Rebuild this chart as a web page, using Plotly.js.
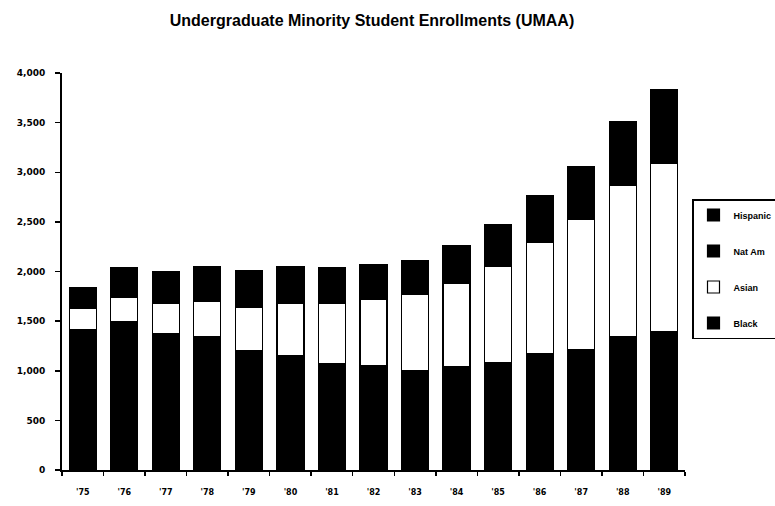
<!DOCTYPE html>
<html>
<head>
<meta charset="utf-8">
<script src="https://cdn.plot.ly/plotly-3.0.1.min.js"></script>
<style>html,body{margin:0;padding:0;background:#fff;}#chart{width:775px;height:506px;}</style>
</head>
<body>
<div id="chart"></div>
<script>
const years = ["'75","'76","'77","'78","'79","'80","'81","'82","'83","'84","'85","'86","'87","'88","'89"];
const black    = [1417,1498,1373,1349,1204,1154,1076,1056,1005,1046,1086,1174,1215,1349,1390];
const asian    = [213,240,304,351,439,523,601,665,766,833,965,1120,1315,1519,1697];
const natAm    = [30,35,35,40,40,40,40,40,40,45,50,55,60,65,70];
const hispanic = [182,264,285,308,324,334,324,304,294,333,376,411,470,582,679];
const yTicks = [0,500,1000,1500,2000,2500,3000,3500,4000];
const yTickText = ["0","500","1,000","1,500","2,000","2,500","3,000","3,500","4,000"];

function bar(name, vals, fill, rank){
  return {type:'bar', name:name, x:years, y:vals, legendgroup:name, legendrank:rank,
    marker:{color:fill, line:{color:'#000', width:1.2}}, hoverinfo:'skip'};
}
const data = [
  bar('Black', black, '#000', 4),
  bar('Asian', asian, '#fff', 3),
  bar('Nat Am', natAm, '#000', 2),
  bar('Hispanic', hispanic, '#000', 1)
];
const n = years.length;
const bounds = [];
for (let i = 0; i <= n; i++) bounds.push(i - 0.5);

const tickFont = {family:'DejaVu Sans', size:9, color:'#000', weight:'bold'};
const layout = {
  width:775, height:506,
  margin:{l:62, r:90, t:73, b:36, autoexpand:false},
  paper_bgcolor:'#fff', plot_bgcolor:'#fff',
  barmode:'stack', bargap:0.35,
  showlegend:true,
  title:{text:'Undergraduate Minority Student Enrollments (UMAA)', x:0.48, xanchor:'center',
         y:1-20/506, yanchor:'middle', yref:'container',
         font:{family:'Liberation Sans', size:16, color:'#000', weight:'bold'}},
  xaxis:{type:'category', tickson:'boundaries', ticks:'outside', ticklen:4, tickwidth:1.5, tickcolor:'#000',
         showline:true, linecolor:'#000', linewidth:2, showgrid:false, zeroline:false,
         tickfont:{family:'DejaVu Sans', size:8, color:'#000', weight:'bold'}, ticklabelstandoff:13, fixedrange:true},
  xaxis2:{overlaying:'x', type:'linear', range:[-0.5, n-0.5], tickvals:bounds, ticks:'inside', ticklen:3,
          tickwidth:1.5, tickcolor:'#000', showticklabels:false, showline:false, showgrid:false, zeroline:false},
  yaxis:{range:[0,4000], tickvals:yTicks, ticktext:yTickText, ticks:'outside', ticklen:5, tickwidth:1.5, tickcolor:'#000',
         showline:true, linecolor:'#000', linewidth:2, showgrid:false, zeroline:false,
         tickfont:tickFont, ticklabelstandoff:8, fixedrange:true},
  yaxis2:{overlaying:'y', side:'left', range:[0,4000], tickvals:yTicks, ticks:'inside', ticklen:4, tickwidth:1.5,
          tickcolor:'#000', showticklabels:false, showline:false, showgrid:false, zeroline:false},
  legend:{x:(692-62)/623, xanchor:'left', y:(470-199)/397, yanchor:'top',
          bordercolor:'#000', borderwidth:1.5, bgcolor:'#fff',
          traceorder:'grouped', tracegroupgap:17,
          font:{family:'Liberation Sans', size:9, color:'#000', weight:'bold'}}
};
Plotly.newPlot('chart', data, layout, {displayModeBar:false, staticPlot:true});
</script>
</body>
</html>
